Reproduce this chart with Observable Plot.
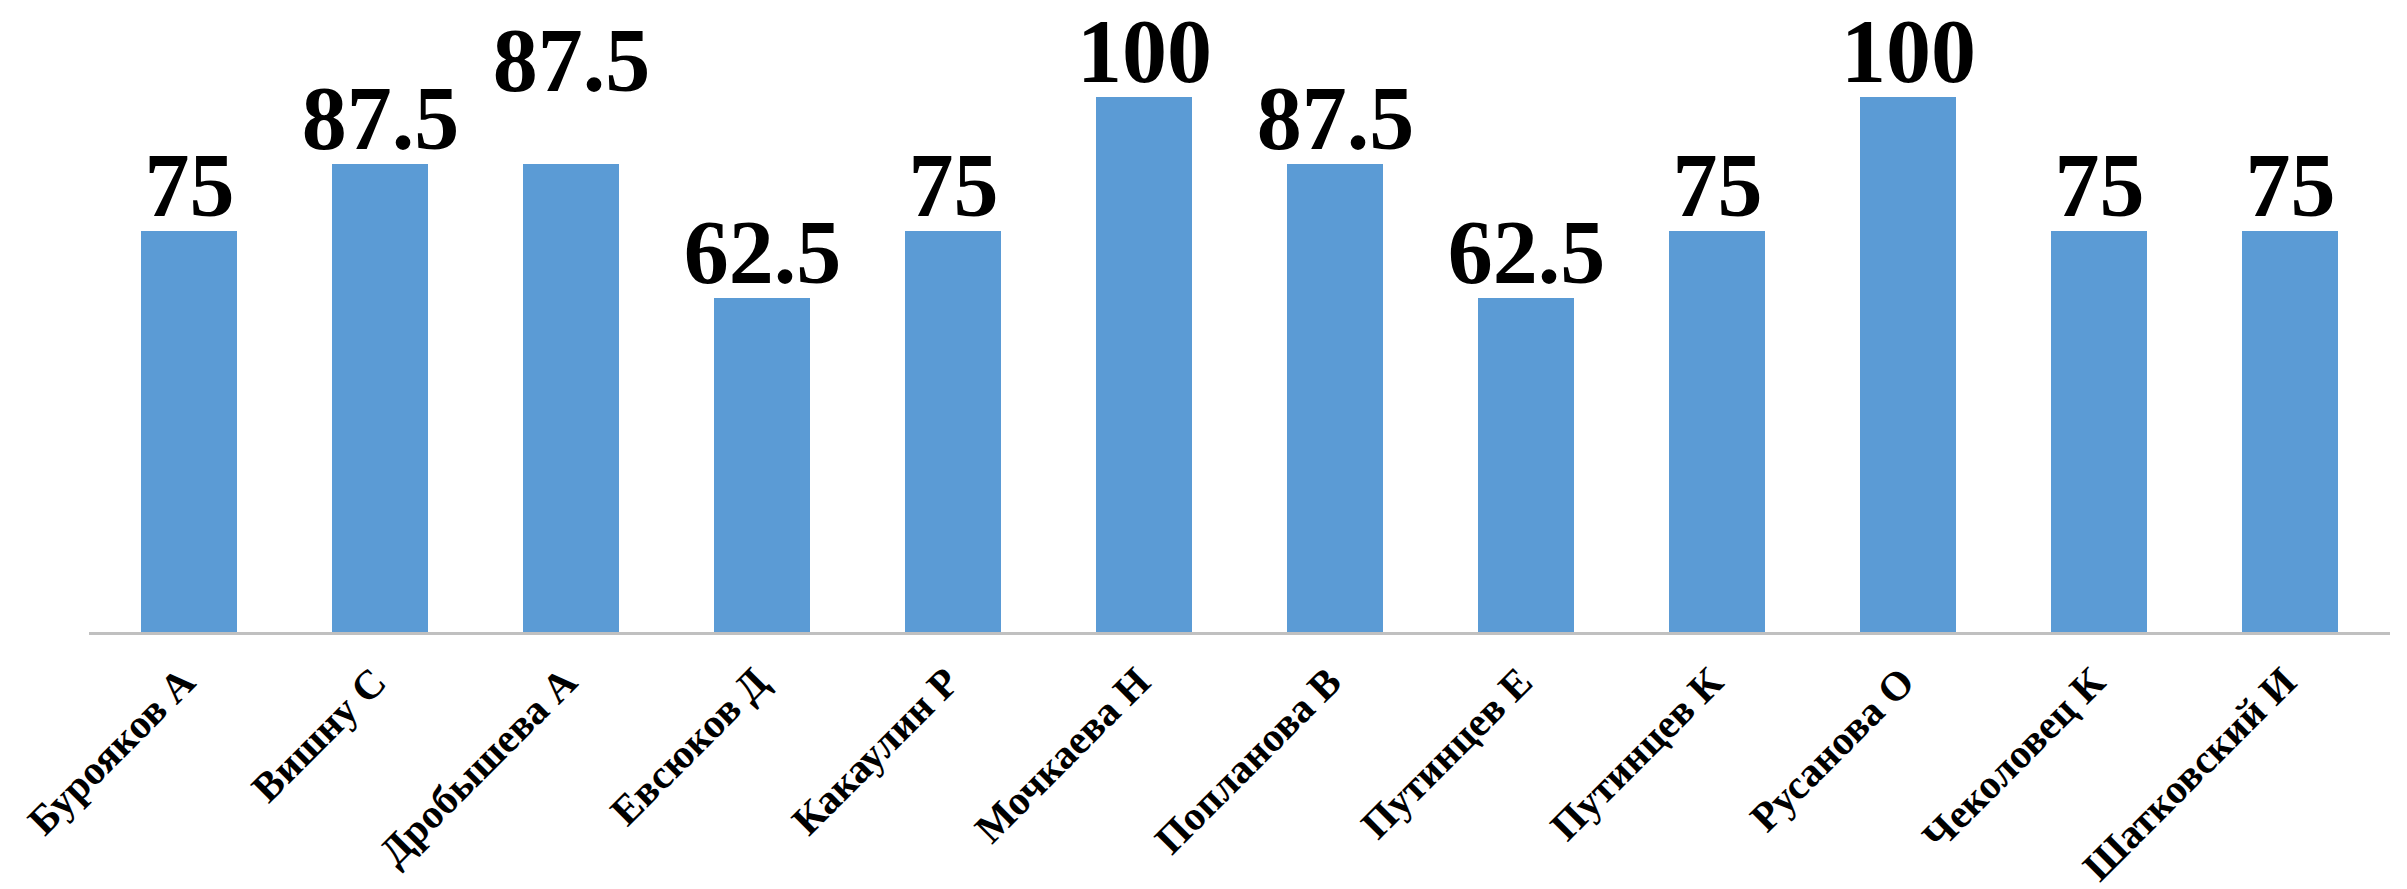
<!DOCTYPE html>
<html>
<head>
<meta charset="utf-8">
<script src="https://cdn.jsdelivr.net/npm/d3@7"></script>
<script src="https://cdn.jsdelivr.net/npm/@observablehq/plot@0.6"></script>
<style>
  html, body { margin: 0; padding: 0; background: #ffffff; }
  #chart svg { display: block; }
</style>
</head>
<body>
<div id="chart"></div>
<script>
// ---- data ----
const students = [
  "Бурояков А", "Вишну С", "Дробышева А", "Евсюков Д", "Какаулин Р", "Мочкаева Н",
  "Попланова В", "Путинцев Е", "Путинцев К", "Русанова О", "Чеколовец К", "Шатковский И"
];
const scores = [75, 87.5, 87.5, 62.5, 75, 100, 87.5, 62.5, 75, 100, 75, 75];
// label that was dragged higher in the original chart
const raisedLabels = ["Дробышева А"];

// ---- table built from the arrays ----
const rows = students.map((name, i) => ({name, score: scores[i]}));

const serif = "'Liberation Serif', 'Times New Roman', serif";

const chart = Plot.plot({
  width: 2407,
  height: 889,
  marginLeft: 89,
  marginRight: 17,
  marginTop: 97,
  marginBottom: 256,
  style: {background: "#ffffff", fontFamily: serif},
  x: {domain: students, paddingInner: 0.5, paddingOuter: 0.25, axis: null},
  y: {domain: [0, 100], axis: null},
  marks: [
    Plot.barY(rows, {x: "name", y: "score", fill: "#5b9bd5"}),
    Plot.ruleY([0], {stroke: "#c0c0c0", strokeWidth: 3}),
    Plot.text(rows.filter(d => !raisedLabels.includes(d.name)), {
      x: "name", y: "score", text: d => String(d.score),
      lineAnchor: "bottom", dy: -16,
      fontSize: 90, fontWeight: "bold", fontFamily: serif, fill: "#000000"
    }),
    Plot.text(rows.filter(d => raisedLabels.includes(d.name)), {
      x: "name", y: "score", text: d => String(d.score),
      lineAnchor: "bottom", dy: -74,
      fontSize: 90, fontWeight: "bold", fontFamily: serif, fill: "#000000"
    }),
    Plot.text(students, {
      x: d => d, frameAnchor: "bottom", text: d => d,
      rotate: -45, textAnchor: "end", lineAnchor: "bottom",
      dx: 8, dy: 51,
      fontSize: 41, fontWeight: "bold", fontFamily: serif, fill: "#000000"
    })
  ]
});
document.getElementById("chart").append(chart);
</script>
</body>
</html>
